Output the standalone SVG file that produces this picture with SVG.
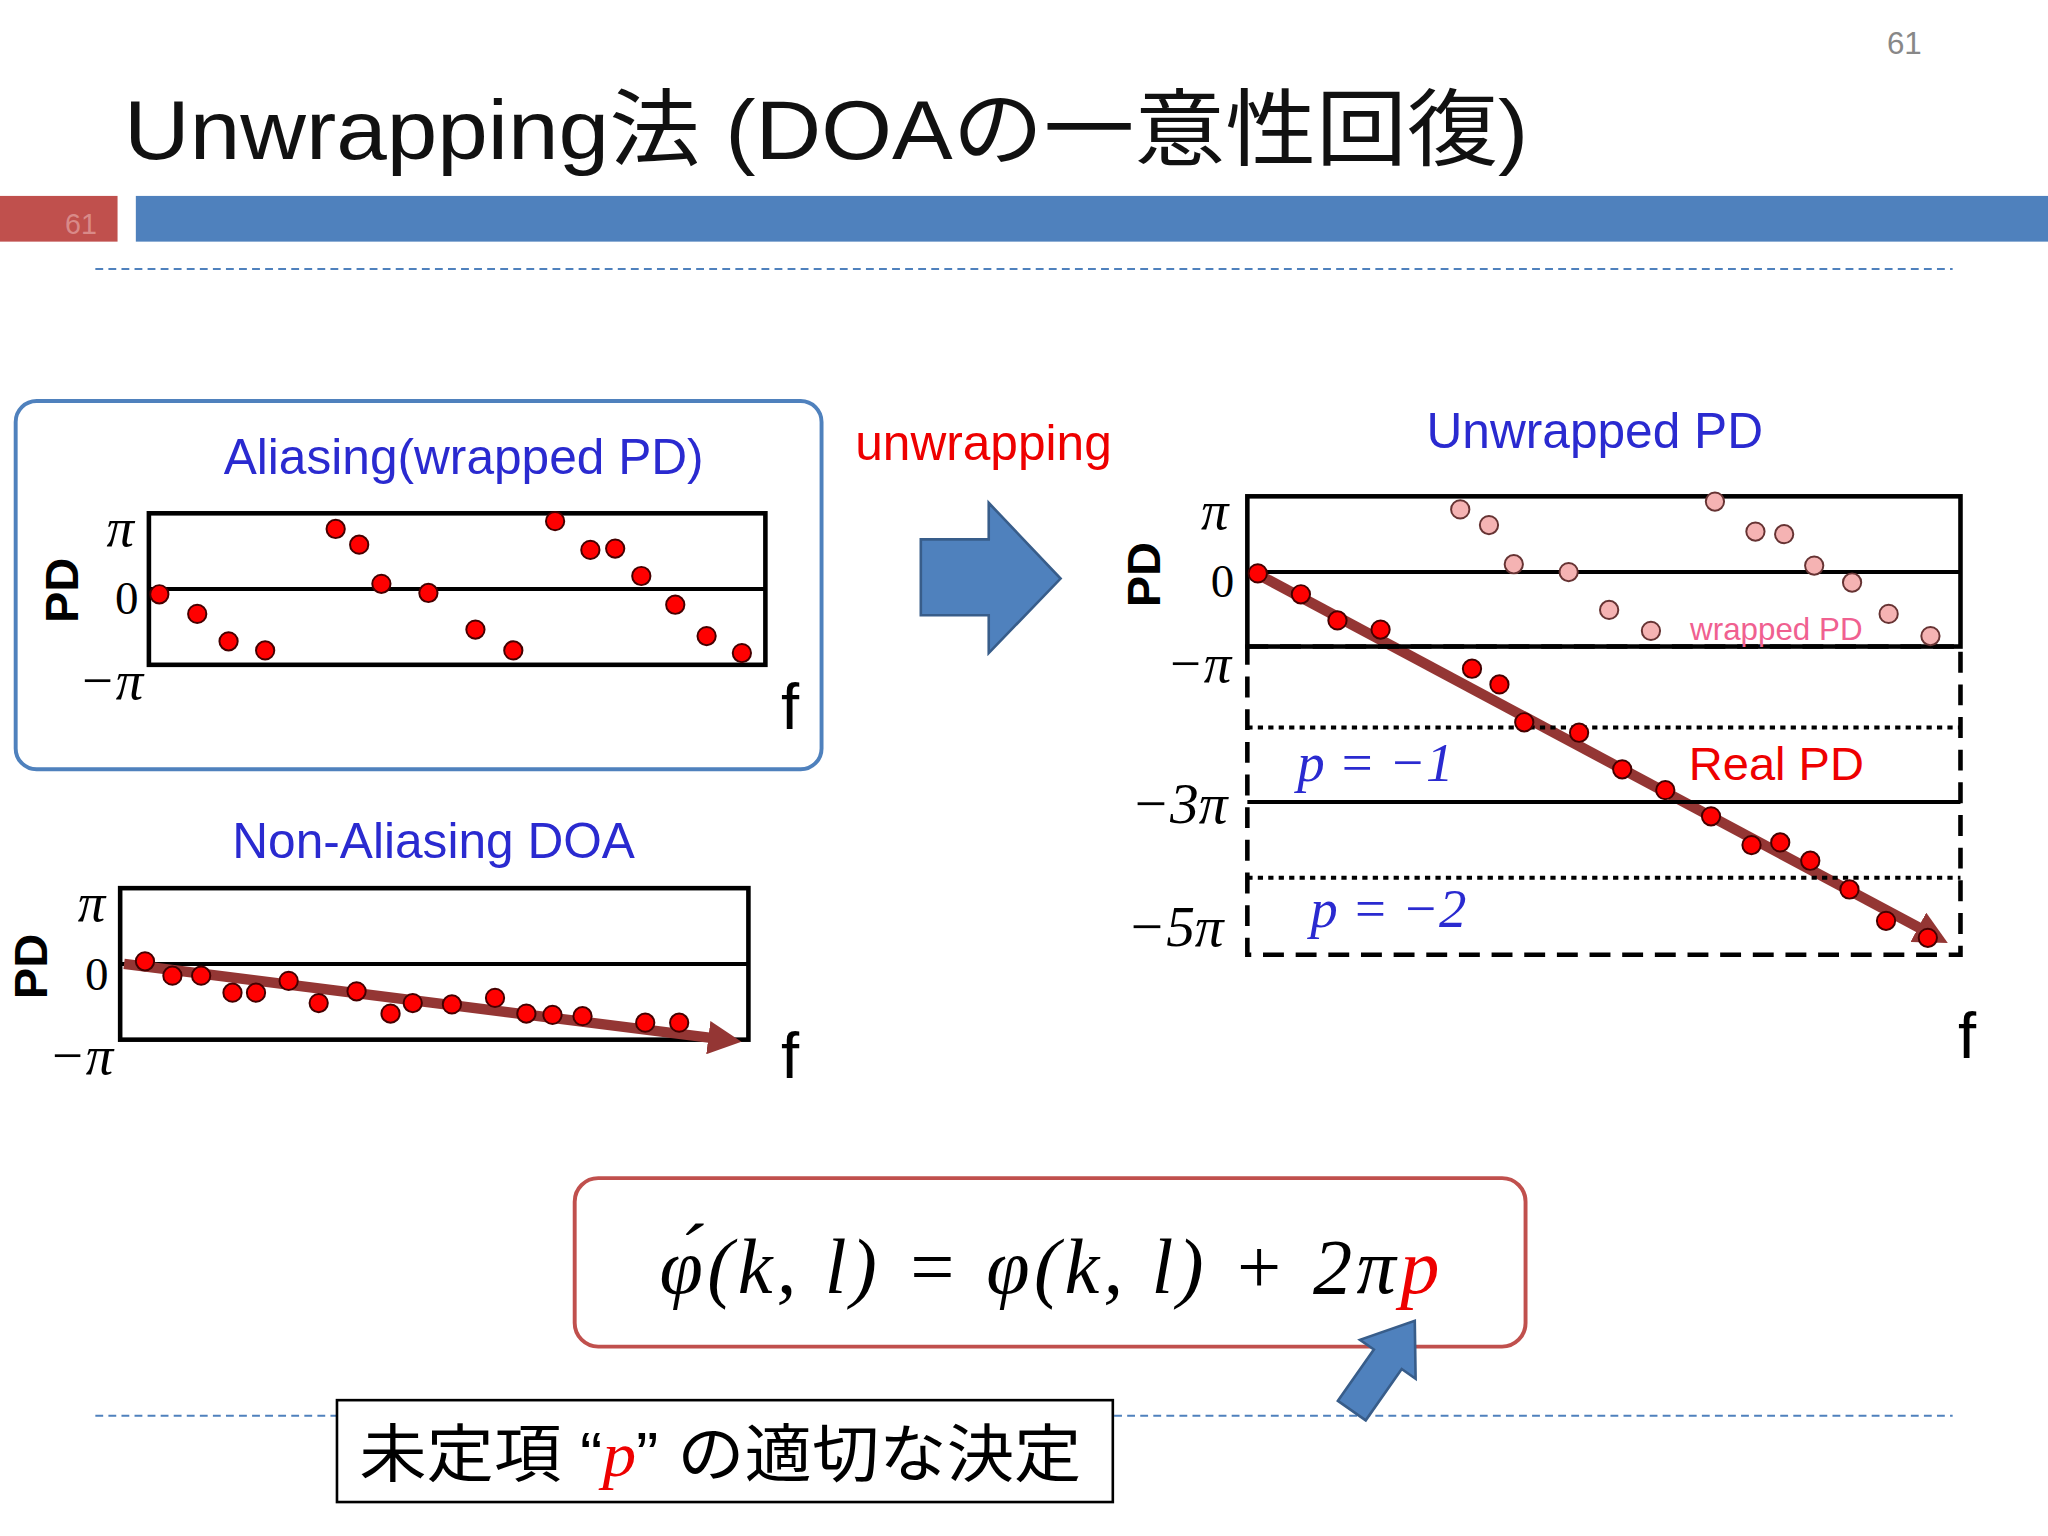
<svg xmlns="http://www.w3.org/2000/svg" width="2048" height="1536" viewBox="0 0 2048 1536">
<defs>
<style>
.s{font-family:"Liberation Sans","Noto Sans CJK JP",sans-serif}
.m{font-family:"Liberation Serif","DejaVu Serif",serif}
.mi{font-family:"Liberation Serif","DejaVu Serif",serif;font-style:italic}
.ax{fill:none;stroke:#000;stroke-width:3.5}
.d{fill:#ff0000;stroke:#400;stroke-width:1.5}
.pd{fill:#f5b3b3;stroke:#633;stroke-width:1.5}
.ar{stroke:#943634;stroke-width:8;fill:none;marker-end:url(#ah)}
.bl{fill:#2a2ad0}
</style>
<marker id="ah" viewBox="0 0 10 10" refX="5" refY="5" markerWidth="3.2" markerHeight="3.2" orient="auto"><path d="M0,0L10,5L0,10z" fill="#943634"/></marker>
</defs>
<rect width="2048" height="1536" fill="#fff"/>
<g transform="scale(1.30612)">
<g id="header">
<text x="1458" y="41" class="s" font-size="24" fill="#888" text-anchor="middle">61</text>
<text x="95" y="122" class="s" font-size="64" fill="#111" textLength="1075" lengthAdjust="spacingAndGlyphs">Unwrapping法 (DOAの一意性回復)</text>
<rect x="0" y="150" width="90" height="35" fill="#c0504d"/>
<text x="62" y="179" class="s" font-size="22" fill="#d98a88" text-anchor="middle">61</text>
<rect x="104" y="150" width="1464" height="35" fill="#4f81bd"/>
<line x1="73" y1="206" x2="1495" y2="206" stroke="#4f81bd" stroke-width="1.5" stroke-dasharray="6,4"/>
<line x1="73" y1="1084" x2="1495" y2="1084" stroke="#4f81bd" stroke-width="1.5" stroke-dasharray="6,4"/>
</g>
<g id="aliasing">
<rect x="12" y="307" width="617" height="282" rx="16" fill="none" stroke="#4f81bd" stroke-width="3"/>
<text x="355" y="363" class="s bl" font-size="38" text-anchor="middle">Aliasing(wrapped PD)</text>
<rect x="114" y="393" width="472" height="116" class="ax"/>
<line x1="114" y1="451" x2="586" y2="451" stroke="#000" stroke-width="3"/>
<text x="92" y="418" class="mi" font-size="42" text-anchor="middle">π</text>
<text x="97" y="470" class="m" font-size="36" text-anchor="middle">0</text>
<text x="85" y="535" class="mi" font-size="42" text-anchor="middle">−π</text>
<text transform="translate(60,452) rotate(-90)" class="s" font-size="36" font-weight="bold" text-anchor="middle">PD</text>
<text x="605" y="558" class="s" font-size="50" text-anchor="middle">f</text>
<g>
<circle cx="122" cy="455" r="7" class="d"/><circle cx="151" cy="470" r="7" class="d"/><circle cx="175" cy="491" r="7" class="d"/><circle cx="203" cy="498" r="7" class="d"/><circle cx="257" cy="405" r="7" class="d"/><circle cx="275" cy="417" r="7" class="d"/><circle cx="292" cy="447" r="7" class="d"/><circle cx="328" cy="454" r="7" class="d"/><circle cx="364" cy="482" r="7" class="d"/><circle cx="393" cy="498" r="7" class="d"/><circle cx="425" cy="399" r="7" class="d"/><circle cx="452" cy="421" r="7" class="d"/><circle cx="471" cy="420" r="7" class="d"/><circle cx="491" cy="441" r="7" class="d"/><circle cx="517" cy="463" r="7" class="d"/><circle cx="541" cy="487" r="7" class="d"/><circle cx="568" cy="500" r="7" class="d"/>
</g>
</g>
<g id="nonaliasing">
<text x="332" y="657" class="s bl" font-size="38" text-anchor="middle">Non-Aliasing DOA</text>
<rect x="92" y="680" width="481" height="116" class="ax"/>
<line x1="92" y1="738" x2="573" y2="738" stroke="#000" stroke-width="3"/>
<text x="70" y="705" class="mi" font-size="42" text-anchor="middle">π</text>
<text x="74" y="758" class="m" font-size="36" text-anchor="middle">0</text>
<text x="62" y="822" class="mi" font-size="42" text-anchor="middle">−π</text>
<text transform="translate(36,740) rotate(-90)" class="s" font-size="36" font-weight="bold" text-anchor="middle">PD</text>
<text x="605" y="825" class="s" font-size="50" text-anchor="middle">f</text>
</g>
<g id="connectors">
<line x1="95" y1="738" x2="555" y2="796" class="ar"/>
<line x1="958" y1="437" x2="1480" y2="716" class="ar"/>
</g>
<g id="nonaliasing-dots">
<circle cx="111" cy="736" r="7" class="d"/><circle cx="132" cy="747" r="7" class="d"/><circle cx="154" cy="747" r="7" class="d"/><circle cx="178" cy="760" r="7" class="d"/><circle cx="196" cy="760" r="7" class="d"/><circle cx="221" cy="751" r="7" class="d"/><circle cx="244" cy="768" r="7" class="d"/><circle cx="273" cy="759" r="7" class="d"/><circle cx="299" cy="776" r="7" class="d"/><circle cx="316" cy="768" r="7" class="d"/><circle cx="346" cy="769" r="7" class="d"/><circle cx="379" cy="764" r="7" class="d"/><circle cx="403" cy="776" r="7" class="d"/><circle cx="423" cy="777" r="7" class="d"/><circle cx="446" cy="778" r="7" class="d"/><circle cx="494" cy="783" r="7" class="d"/><circle cx="520" cy="783" r="7" class="d"/>
</g>
<g id="unwrap-arrow">
<text x="753" y="352" class="s" font-size="38" fill="#e00" text-anchor="middle">unwrapping</text>
<polygon points="705,413 757,413 757,385 812,443 757,500 757,471 705,471" fill="#4f81bd" stroke="#385d8a" stroke-width="2"/>
</g>
<g id="unwrapped">
<text x="1221" y="343" class="s bl" font-size="38" text-anchor="middle">Unwrapped PD</text>
<rect x="955" y="495" width="546" height="236" fill="none" stroke="#000" stroke-width="3.5" stroke-dasharray="16,9"/>
<line x1="955" y1="557" x2="1501" y2="557" stroke="#000" stroke-width="3" stroke-dasharray="4,4"/>
<line x1="955" y1="672" x2="1501" y2="672" stroke="#000" stroke-width="3" stroke-dasharray="4,4"/>
<line x1="955" y1="614" x2="1501" y2="614" stroke="#000" stroke-width="3"/>
<rect x="955" y="380" width="546" height="115" class="ax"/>
<line x1="955" y1="438" x2="1501" y2="438" stroke="#000" stroke-width="3"/>
<text x="930" y="405" class="mi" font-size="42" text-anchor="middle">π</text>
<text x="936" y="457" class="m" font-size="36" text-anchor="middle">0</text>
<text x="918" y="522" class="mi" font-size="42" text-anchor="middle">−π</text>
<text x="903" y="630" class="mi" font-size="44" text-anchor="middle">−3π</text>
<text x="900" y="724" class="mi" font-size="44" text-anchor="middle">−5π</text>
<text transform="translate(888,440) rotate(-90)" class="s" font-size="36" font-weight="bold" text-anchor="middle">PD</text>
<text x="1506" y="810" class="s" font-size="50" text-anchor="middle">f</text>
<text x="1053" y="598" class="mi bl" font-size="42" text-anchor="middle">p = −1</text>
<text x="1063" y="710" class="mi bl" font-size="42" text-anchor="middle">p = −2</text>
<text x="1360" y="597" class="s" font-size="36" fill="#e00" text-anchor="middle">Real PD</text>
<text x="1360" y="490" class="s" font-size="24" fill="#f06090" text-anchor="middle">wrapped PD</text>
<circle cx="1118" cy="390" r="7" class="pd"/><circle cx="1140" cy="402" r="7" class="pd"/><circle cx="1159" cy="432" r="7" class="pd"/><circle cx="1201" cy="438" r="7" class="pd"/><circle cx="1232" cy="467" r="7" class="pd"/><circle cx="1264" cy="483" r="7" class="pd"/><circle cx="1313" cy="384" r="7" class="pd"/><circle cx="1344" cy="407" r="7" class="pd"/><circle cx="1366" cy="409" r="7" class="pd"/><circle cx="1389" cy="433" r="7" class="pd"/><circle cx="1418" cy="446" r="7" class="pd"/><circle cx="1446" cy="470" r="7" class="pd"/><circle cx="1478" cy="487" r="7" class="pd"/>
<circle cx="963" cy="439" r="7" class="d"/><circle cx="996" cy="455" r="7" class="d"/><circle cx="1024" cy="475" r="7" class="d"/><circle cx="1057" cy="482" r="7" class="d"/><circle cx="1127" cy="512" r="7" class="d"/><circle cx="1148" cy="524" r="7" class="d"/><circle cx="1167" cy="553" r="7" class="d"/><circle cx="1209" cy="561" r="7" class="d"/><circle cx="1242" cy="589" r="7" class="d"/><circle cx="1275" cy="605" r="7" class="d"/><circle cx="1310" cy="625" r="7" class="d"/><circle cx="1341" cy="647" r="7" class="d"/><circle cx="1363" cy="645" r="7" class="d"/><circle cx="1386" cy="659" r="7" class="d"/><circle cx="1416" cy="681" r="7" class="d"/><circle cx="1444" cy="705" r="7" class="d"/><circle cx="1476" cy="718" r="7" class="d"/>
</g>
<g id="formula">
<rect x="440" y="902" width="728" height="129" rx="18" fill="none" stroke="#c0504d" stroke-width="3"/>
<text x="505" y="990" class="mi" font-size="60" textLength="597" lengthAdjust="spacing">φ́(k, l) = φ(k, l) + 2π<tspan fill="#e00">p</tspan></text>
</g>
<g id="small-arrow">
<polygon transform="translate(1035,1080) rotate(-55)" points="0,-13 48,-13 48,-26 84,0 48,26 48,13 0,13" fill="#4f81bd" stroke="#385d8a" stroke-width="2"/>
</g>
<g id="note">
<rect x="258" y="1072" width="594" height="78" fill="#fff" stroke="#000" stroke-width="2"/>
<text x="275" y="1130" class="s" font-size="48" textLength="553" lengthAdjust="spacingAndGlyphs">未定項 “<tspan class="mi" fill="#e00">p</tspan>” の適切な決定</text>
</g>
</g>
</svg>
